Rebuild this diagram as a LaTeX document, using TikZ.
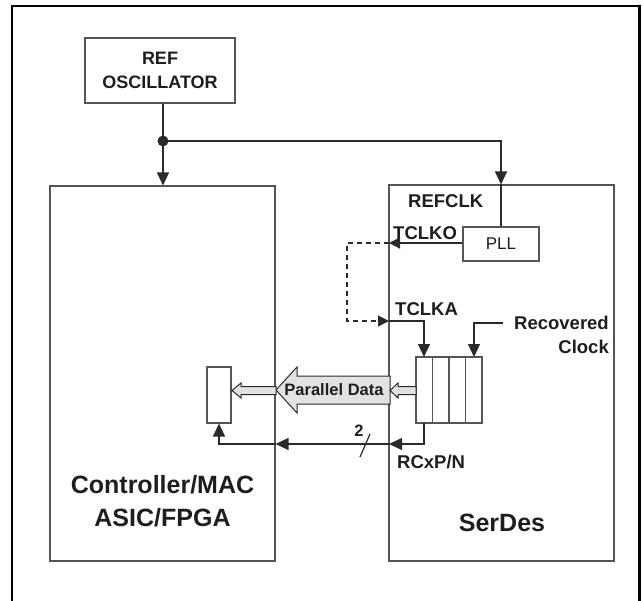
\documentclass[tikz,border=0pt]{standalone}
\usepackage{fontspec}
\setmainfont{Liberation Sans}
\usetikzlibrary{arrows.meta}
\definecolor{boxgray}{HTML}{555555}
\definecolor{linegray}{HTML}{2A2A2A}
\definecolor{txt}{HTML}{1E1E1E}
\definecolor{hollowfill}{HTML}{E2E2E2}
\begin{document}
\begin{tikzpicture}[x=1pt,y=-1pt,
  box/.style={draw=boxgray, line width=1.1pt, inner sep=0pt},
  conn/.style={draw=linegray, line width=1.2pt},
  arr/.style={conn, -{Triangle[length=13pt,width=12pt]}},
  sarr/.style={conn, -{Triangle[length=11pt,width=11pt]}},
  hollow/.style={draw=linegray, line width=1pt, fill=hollowfill, line join=miter},
  lbl/.style={font=\fontsize{18.5}{19}\selectfont\bfseries, inner sep=0pt, text=txt},
  big/.style={font=\fontsize{25}{33}\selectfont\bfseries, inner sep=0pt, text=txt, align=center},
]
\useasboundingbox (0,0) rectangle (642,600);
\clip (0,0) rectangle (642,600);
% outer frame
\draw[line width=2.8pt, black] (12,6) rectangle (639.5,610);

% blocks
\node[box, minimum width=150pt, minimum height=65pt, align=center,
      font=\fontsize{18}{24}\selectfont\bfseries, text=txt] (osc) at (160,70.5) {REF\\OSCILLATOR};
\node[box, minimum width=225pt, minimum height=375pt] (ctrl) at (162.5,373.5) {};
\node[box, minimum width=225pt, minimum height=376pt] (serdes) at (501.5,373) {};
\node[box, minimum width=76pt, minimum height=34pt,
      font=\fontsize{17}{18}\selectfont, text=txt] (pll) at (501,244) {PLL};
\node[box, minimum width=66pt, minimum height=66pt] (reg) at (449,390) {};
\draw[boxgray, line width=1.1pt] (432.5,357) -- (432.5,423) (449,357) -- (449,423) (465.5,357) -- (465.5,423);
\node[box, minimum width=24pt, minimum height=56pt] (sreg) at (219,395) {};

% labels
\node[big] (ctrltxt) at (162.5,501) {Controller/MAC\\ASIC/FPGA};
\node[big] (serdestxt) at (502,523) {SerDes};
\node[lbl, anchor=west] (refclk) at (408,201) {REFCLK};
\node[lbl, anchor=west] (tclko) at (393,233) {TCLKO};
\node[lbl, anchor=west] (tclka) at (395,309) {TCLKA};
\node[lbl, anchor=east] (recov) at (609,323) {Recovered};
\node[lbl, anchor=east] (clock) at (609,347) {Clock};
\node[lbl, anchor=west] (rcx) at (397,462) {RCxP/N};
\node[lbl, font=\fontsize{16.5}{16}\selectfont\bfseries] (two) at (359,431) {2};

% coordinates
\coordinate (dot) at (163,141);
\coordinate (tko) at (389,243);
\coordinate (tka) at (389,321);
\coordinate (c1n) at (424,357);
\coordinate (c4n) at (474,357);
\coordinate (rc) at (503,323);
\coordinate (c1s) at (424,423);
\coordinate (rx) at (389,444);

% clock tree
\draw[conn] (dot |- osc.south) -- (dot);
\fill[linegray] (dot) circle (5.5pt);
\draw[arr] (dot) -- (dot |- ctrl.north);
\draw[arr] (dot) -| (pll.north |- serdes.north);
\draw[conn] (pll.north |- serdes.north) -- (pll.north);

% TCLKO / TCLKA
\draw[sarr] (pll.west |- tko) -- (tko);
\draw[sarr, dashed, dash pattern=on 5pt off 4pt] (tko) -- ++(-42,0) |- (tka);
\draw[arr] (tka) -| (c1n);
\draw[arr] (rc) -| (c4n);

% RCxP/N
\draw[arr] (c1s) |- (rx);
\draw[arr] (rx) -- (rx -| ctrl.east);
\draw[arr] (rx -| ctrl.east) -| (sreg.south);
\draw[conn] (370,434) -- (360,457);

% parallel data hollow arrows
\draw[hollow] (276,390) -- (297,367) -- (297,376) -- (390,376) -- (390,404) -- (297,404) -- (297,413) -- cycle;
\draw[hollow] (390,390.5) -- (398,383) -- (398,386.5) -- (416,386.5) -- (416,394.5) -- (398,394.5) -- (398,398) -- cycle;
\draw[hollow] (232,390.5) -- (241,383) -- (241,386.5) -- (276,386.5) -- (276,394.5) -- (241,394.5) -- (241,398) -- cycle;
\node[inner sep=0pt, font=\fontsize{16.5}{16}\selectfont\bfseries, text=txt] (pd) at (334,390) {Parallel Data};
\end{tikzpicture}
\end{document}
